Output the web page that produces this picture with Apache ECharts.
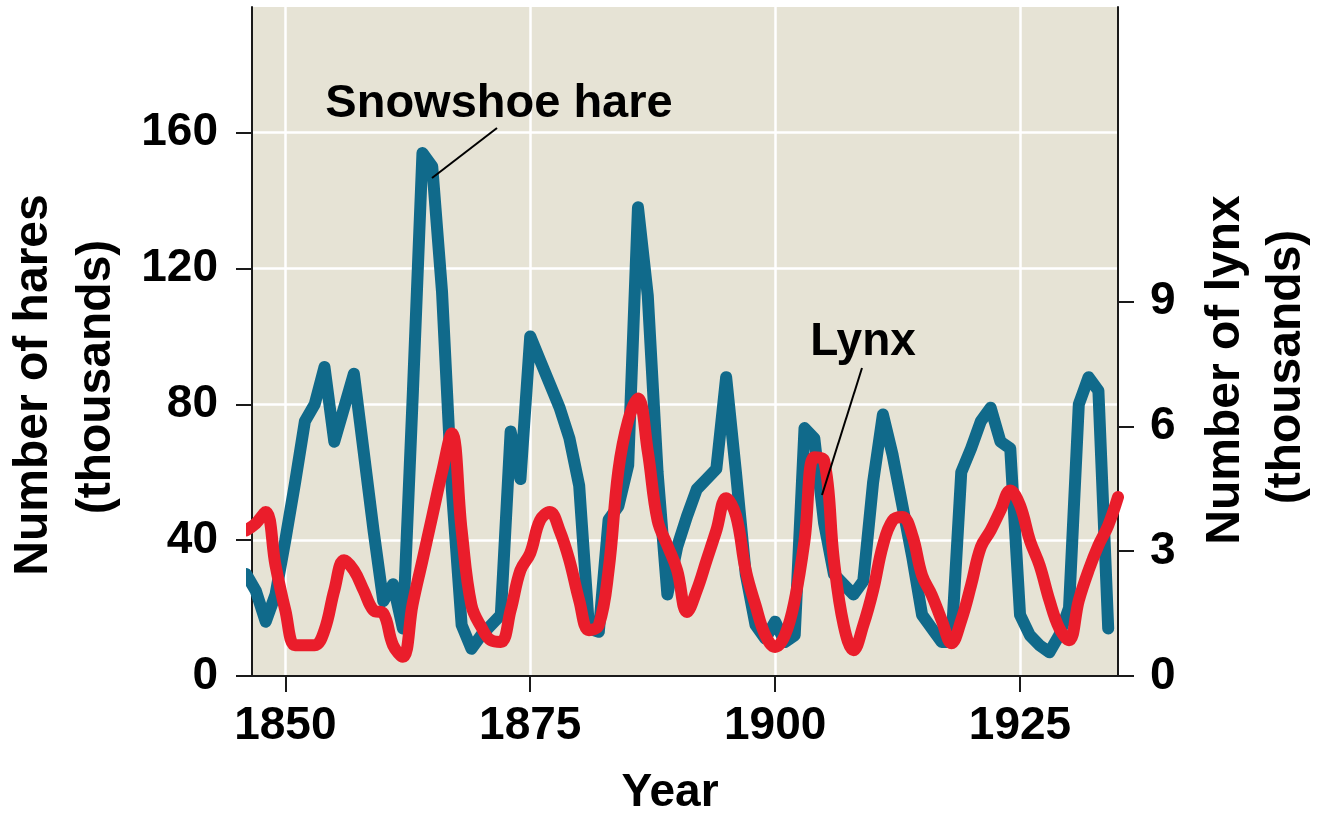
<!DOCTYPE html>
<html>
<head>
<meta charset="utf-8">
<script src="https://cdn.jsdelivr.net/npm/echarts@6/dist/echarts.min.js"></script>
<style>
html,body{margin:0;padding:0;background:#fff;}
#chart{width:1317px;height:815px;}
</style>
</head>
<body>
<div id="chart"></div>
<script>
// ---- data ----
const years = [];
for (let y = 1846; y <= 1935; y++) years.push(y);
// hare population (thousands), 1846..1935
const hare = [
  30, 25, 16, 24, 40, 57, 75, 80, 91, 69,   // 1846-1855
  79, 89, 66, 43, 22, 27, 14, 82, 154, 150, // 1856-1865
  113, 55, 15, 8, 12, 15, 18, 72, 58, 100,  // 1866-1875
  93, 86, 79, 70, 56, 14, 13, 46, 50, 62,   // 1876-1885
  138, 112, 60, 24, 38, 47, 55, 58, 61, 88, // 1886-1895
  60, 30, 15, 11, 16, 10, 12, 73, 70, 45,   // 1896-1905
  30, 27, 24, 28, 57, 77, 65, 50, 35, 18,   // 1906-1915
  14, 10, 10, 60, 67, 75, 79, 69, 67, 18,   // 1916-1925
  12, 9, 7, 12, 20, 80, 88, 84, 14, null    // 1926-1935
];
// lynx population (thousands), 1846..1935
const lynx = [
  3.5, 3.67, 3.94, 2.66, 1.58, 0.74, 0.74, 0.74, 1.1, 2.06,   // 1846-1855
  2.78, 2.54, 2.06, 1.58, 1.51, 0.74, 0.46, 1.73, 2.78, 3.84, // 1856-1865
  4.9, 5.83, 3.5, 1.7, 1.18, 0.86, 0.82, 1.58, 2.54, 2.95,    // 1866-1875
  3.74, 3.94, 3.5, 2.78, 1.82, 1.1, 1.22, 2.54, 4.94, 6.14,   // 1876-1885
  6.67, 5.4, 3.74, 3.14, 2.54, 1.54, 2.06, 2.78, 3.5, 4.27,   // 1886-1895
  3.86, 2.54, 1.7, 0.98, 0.7, 0.98, 1.82, 3.26, 5.26, 5.18,   // 1896-1905
  2.78, 1.22, 0.62, 1.22, 2.06, 3.14, 3.74, 3.82, 3.38, 2.42, // 1906-1915
  1.94, 1.34, 0.79, 1.34, 2.18, 3.1, 3.5, 3.98, 4.46, 4.1,    // 1916-1925
  3.26, 2.66, 1.82, 1.15, 0.86, 1.82, 2.54, 3.14, 3.62, 4.3   // 1926-1935
];
const xTicks = [1850, 1875, 1900, 1925];
const hareTicks = [0, 40, 80, 120, 160];
const lynxTicks = [0, 3, 6, 9];

const FONT = '"Liberation Sans", Arial, sans-serif';
const hareData = years.map((y, i) => [y, hare[i]]);
const lynxData = years.map((y, i) => [y, lynx[i]]);

const chart = echarts.init(document.getElementById('chart'), null, {renderer: 'canvas'});
const axisLine = {show: true, lineStyle: {color: '#1a1a1a', width: 2}};
const labelStyle = {color: '#000', fontFamily: FONT, fontWeight: 'bold', fontSize: 46};
const plain = v => String(v);

chart.setOption({
  backgroundColor: '#ffffff',
  animation: false,
  grid: {left: 252, right: 199, top: 7, bottom: 139, show: true,
         backgroundColor: '#e6e3d5', borderWidth: 0, containLabel: false},
  xAxis: {
    type: 'value', min: 1846.6, max: 1935,
    axisLine: axisLine,
    axisTick: {show: true, length: 16, customValues: xTicks, lineStyle: {color: '#1a1a1a', width: 2}},
    axisLabel: Object.assign({customValues: xTicks, margin: 27, formatter: plain}, labelStyle),
    splitLine: {show: true, lineStyle: {color: '#ffffff', width: 2.5}}
  },
  yAxis: [{
    type: 'value', min: 0, max: 197, position: 'left',
    axisLine: axisLine,
    axisTick: {show: true, length: 16, customValues: hareTicks, lineStyle: {color: '#1a1a1a', width: 2}},
    axisLabel: Object.assign({customValues: hareTicks, margin: 34, formatter: plain}, labelStyle),
    splitLine: {show: true, lineStyle: {color: '#ffffff', width: 2.5}}
  }, {
    type: 'value', min: 0, max: 16.08, position: 'right',
    axisLine: axisLine,
    axisTick: {show: true, length: 16, customValues: lynxTicks, lineStyle: {color: '#1a1a1a', width: 2}},
    axisLabel: Object.assign({customValues: lynxTicks, margin: 32, formatter: plain}, labelStyle),
    splitLine: {show: false}
  }],
  series: [{
    name: 'Snowshoe hare', type: 'line', yAxisIndex: 0, data: hareData,
    showSymbol: false, smooth: false, z: 2,
    lineStyle: {color: '#106a8b', width: 12, join: 'round', cap: 'round'}
  }, {
    name: 'Lynx', type: 'line', yAxisIndex: 1, data: lynxData,
    showSymbol: false, smooth: 0.4, z: 3,
    lineStyle: {color: '#ea1d2b', width: 12, join: 'round', cap: 'round'}
  }],
  graphic: [
    {type: 'text', x: 499, y: 104, z: 10, style: {text: 'Snowshoe hare', font: 'bold 47px ' + FONT, fill: '#000', textAlign: 'center', textVerticalAlign: 'middle'}},
    {type: 'line', z: 10, shape: {x1: 497, y1: 128, x2: 432, y2: 178}, style: {stroke: '#000', lineWidth: 2}},
    {type: 'text', x: 863, y: 342, z: 10, style: {text: 'Lynx', font: 'bold 46px ' + FONT, fill: '#000', textAlign: 'center', textVerticalAlign: 'middle'}},
    {type: 'line', z: 10, shape: {x1: 862, y1: 368, x2: 822, y2: 495}, style: {stroke: '#000', lineWidth: 2}},
    {type: 'text', x: 670, y: 793, style: {text: 'Year', font: 'bold 46px ' + FONT, fill: '#000', textAlign: 'center', textVerticalAlign: 'middle'}},
    {type: 'text', x: 34, y: 385, rotation: Math.PI / 2, style: {text: 'Number of hares', font: 'bold 48px ' + FONT, fill: '#000', textAlign: 'center', textVerticalAlign: 'middle'}},
    {type: 'text', x: 97, y: 377, rotation: Math.PI / 2, style: {text: '(thousands)', font: 'bold 48px ' + FONT, fill: '#000', textAlign: 'center', textVerticalAlign: 'middle'}},
    {type: 'text', x: 1226, y: 370, rotation: Math.PI / 2, style: {text: 'Number of lynx', font: 'bold 48px ' + FONT, fill: '#000', textAlign: 'center', textVerticalAlign: 'middle'}},
    {type: 'text', x: 1287, y: 367, rotation: Math.PI / 2, style: {text: '(thousands)', font: 'bold 48px ' + FONT, fill: '#000', textAlign: 'center', textVerticalAlign: 'middle'}}
  ]
});
</script>
</body>
</html>
